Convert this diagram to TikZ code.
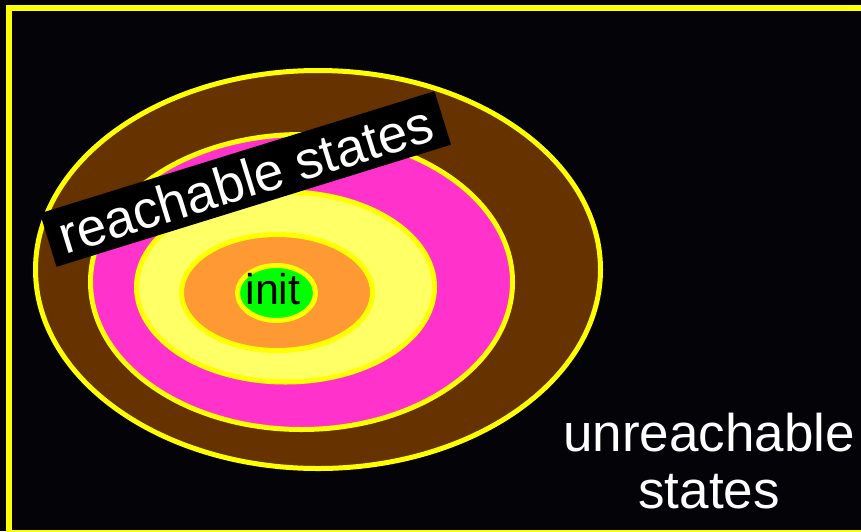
\documentclass[tikz,border=0pt]{standalone}
\usepackage{fontspec}
\setmainfont{Liberation Sans}
\usetikzlibrary{shapes.geometric}
\definecolor{bg}{RGB}{4,4,8}
\definecolor{ylw}{RGB}{255,255,0}
\definecolor{brownring}{RGB}{102,51,0}
\definecolor{magring}{RGB}{255,51,204}
\definecolor{paleyel}{RGB}{255,255,102}
\definecolor{orangering}{RGB}{255,153,51}
\definecolor{greenring}{RGB}{0,255,0}
\tikzset{
  ring/.style={draw=ylw, line width=5pt},
  labeltext/.style={text=white, inner sep=0pt},
}
\begin{document}
\begin{tikzpicture}[x=1pt,y=-1pt]
\fill[bg] (0,0) rectangle (861,531);
\useasboundingbox (0,0) rectangle (861,531);
\draw[ylw, line width=6pt] (9,8) rectangle (880,533);
% nested rings
\filldraw[ring, fill=brownring] (318,269.5) ellipse [x radius=282.5pt, y radius=199pt];
\filldraw[ring, fill=magring] (301.5,282) ellipse [x radius=211pt, y radius=147.5pt];
\filldraw[ring, fill=paleyel] (285.5,287) ellipse [x radius=149pt, y radius=95pt];
\filldraw[ring, fill=orangering] (277,292.5) ellipse [x radius=95.5pt, y radius=58pt];
\filldraw[ring, fill=greenring] (276.5,293) ellipse [x radius=39pt, y radius=27.5pt];
\node[inner sep=0pt, font=\fontsize{43}{47}\selectfont] (init) at (273,289) {init};
% labels
\node[labeltext, fill=black, rotate=17.2, minimum width=413pt, minimum height=56pt,
      font=\fontsize{53}{58}\selectfont] (reach) at (245.5,179) {reachable states};
\node[labeltext, align=center, font=\fontsize{53}{57}\selectfont] (unreach) at (709,461.5)
  {unreachable\\states};
\end{tikzpicture}
\end{document}
